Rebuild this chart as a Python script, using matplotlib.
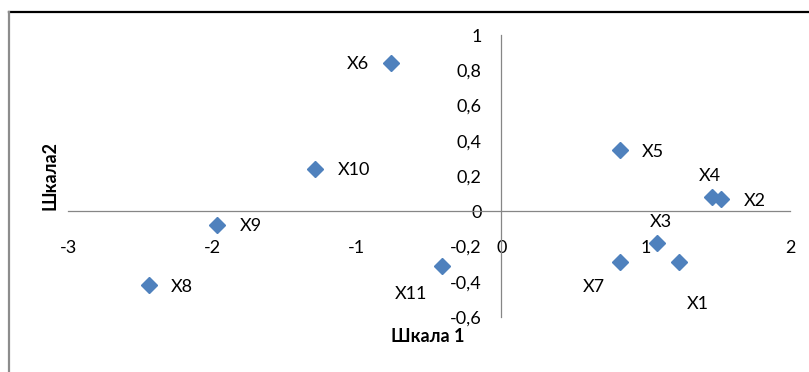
import matplotlib
matplotlib.use("Agg")
import matplotlib.pyplot as plt
from matplotlib.lines import Line2D

plt.rcParams['font.family'] = ['Lato', 'DejaVu Sans']

# data
names = ['X1', 'X2', 'X3', 'X4', 'X5', 'X6', 'X7', 'X8', 'X9', 'X10', 'X11']
scale1 = [1.23, 1.52, 1.08, 1.46, 0.82, -0.76, 0.82, -2.44, -1.97, -1.29, -0.41]
scale2 = [-0.29, 0.07, -0.18, 0.08, 0.35, 0.84, -0.29, -0.42, -0.08, 0.24, -0.31]

x_ticks = [-3, -2, -1, 0, 1, 2]
x_tick_labels = ['-3', '-2', '-1', '0', '1', '2']
y_ticks = [-0.6, -0.4, -0.2, 0, 0.2, 0.4, 0.6, 0.8, 1]
y_tick_labels = ['-0,6', '-0,4', '-0,2', '0', '0,2', '0,4', '0,6', '0,8', '1']

# label offsets in pixels (dx, dy)
label_offsets = {
    'X1': (19, -42), 'X2': (34, -2), 'X3': (4, 21), 'X4': (-2, 21),
    'X5': (33, -2), 'X6': (-34, -1), 'X7': (-26, -25), 'X8': (33, -2),
    'X9': (34, -1), 'X10': (39, -1), 'X11': (-31, -28),
}

FS = 13

W, H = 809, 372
fig = plt.figure(figsize=(W / 100, H / 100), dpi=100)
ax = fig.add_axes([68 / W, 55 / H, 722 / W, 282 / H])

ax.plot(scale1, scale2, linestyle='none', marker='D', markersize=8.4,
        color='#4F81BD', markeredgecolor='#4F81BD')

for n, x, y in zip(names, scale1, scale2):
    dx, dy = label_offsets[n]
    ax.annotate(n, (x, y), xytext=(dx, dy), textcoords='offset pixels',
                ha='center', va='center', fontsize=FS, color='#000000')

ax.set_xlim(-3, 2)
ax.set_ylim(-0.6, 1)
ax.set_xticks(x_ticks)
ax.set_xticklabels(x_tick_labels)
ax.set_yticks(y_ticks)
ax.set_yticklabels(y_tick_labels)

for s in ['top', 'right']:
    ax.spines[s].set_visible(False)
ax.spines['left'].set_position(('data', 0))
ax.spines['bottom'].set_position(('data', 0))
for s in ['left', 'bottom']:
    ax.spines[s].set_color('#868686')
    ax.spines[s].set_linewidth(0.9)

ax.tick_params(axis='x', length=0, pad=21, labelsize=FS)
ax.tick_params(axis='y', length=0, pad=14, labelsize=FS)
ax.patch.set_visible(False)

fig.text(50 / W, 1 - 175 / H, 'Шкала2', rotation=90, ha='center', va='center',
         fontsize=FS, fontweight='bold')
fig.text(428 / W, 1 - 337 / H, 'Шкала 1', ha='center', va='center',
         fontsize=FS, fontweight='bold')

# chart border (top and left visible)
fig.add_artist(Line2D([9 / W, 1], [1 - 12 / H, 1 - 12 / H], color='black', linewidth=1.6,
                      transform=fig.transFigure))
fig.add_artist(Line2D([9 / W, 9 / W], [0, 1 - 12 / H], color='#8c8c8c', linewidth=1.6,
                      transform=fig.transFigure))

plt.savefig('out.png', dpi=100)
plt.close()
